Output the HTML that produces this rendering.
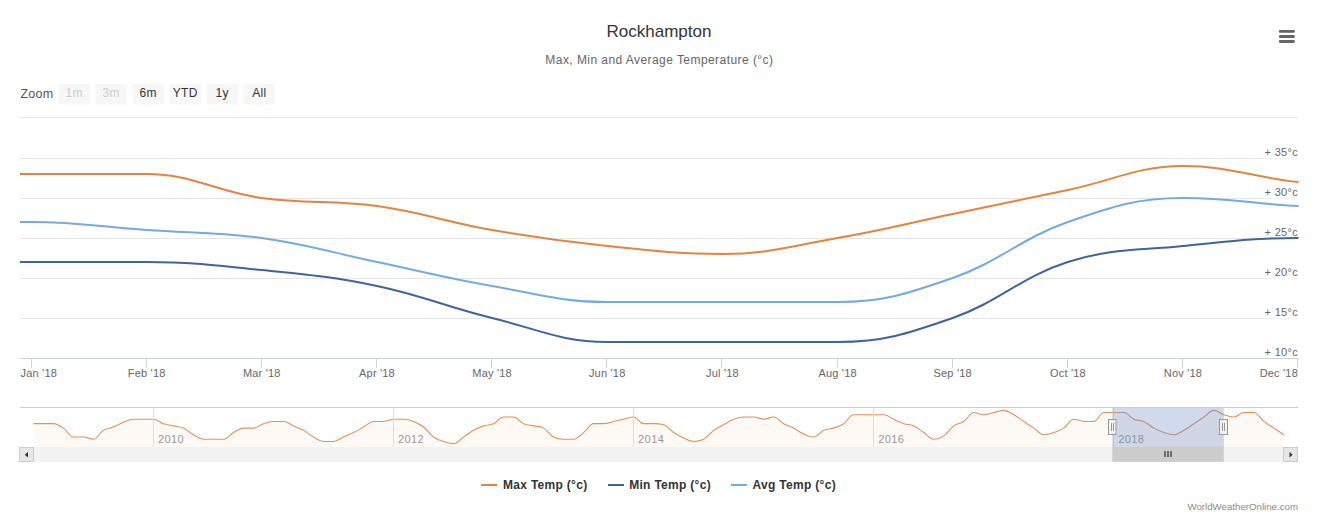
<!DOCTYPE html>
<html><head><meta charset="utf-8"><style>
html,body{margin:0;padding:0;background:#fff;width:1319px;height:518px;overflow:hidden}
svg{display:block;font-family:"Liberation Sans",sans-serif}
</style></head><body>
<svg width="1319" height="518" viewBox="0 0 1319 518">
<rect x="0" y="0" width="1319" height="518" fill="#ffffff"/>
<text x="659" y="37" text-anchor="middle" font-size="17" fill="#333333">Rockhampton</text>
<text x="659.4" y="64" text-anchor="middle" font-size="12" letter-spacing="0.44" fill="#666666">Max, Min and Average Temperature (°c)</text>
<g stroke="#666666" stroke-width="2.8" stroke-linecap="round">
<path d="M 1280.2 31.4 L 1293.6 31.4 M 1280.2 36.5 L 1293.6 36.5 M 1280.2 41.5 L 1293.6 41.5"/>
</g>
<text x="20.4" y="97.7" font-size="12.5" letter-spacing="0.3" fill="#555555">Zoom</text>
<g font-size="12" letter-spacing="0.3"><rect x="58.5" y="84" width="31.5" height="20.5" fill="#f7f7f7"/><text x="74.25" y="97" text-anchor="middle" fill="#cccccc">1m</text><rect x="95.5" y="84" width="31.5" height="20.5" fill="#f7f7f7"/><text x="111.25" y="97" text-anchor="middle" fill="#cccccc">3m</text><rect x="132.5" y="84" width="31.5" height="20.5" fill="#f7f7f7"/><text x="148.25" y="97" text-anchor="middle" fill="#333333">6m</text><rect x="169.5" y="84" width="31.5" height="20.5" fill="#f7f7f7"/><text x="185.25" y="97" text-anchor="middle" fill="#333333">YTD</text><rect x="206.5" y="84" width="31.5" height="20.5" fill="#f7f7f7"/><text x="222.25" y="97" text-anchor="middle" fill="#333333">1y</text><rect x="243.5" y="84" width="31.5" height="20.5" fill="#f7f7f7"/><text x="259.25" y="97" text-anchor="middle" fill="#333333">All</text></g>
<path d="M 20 117.5 L 1298 117.5 M 20 158.5 L 1298 158.5 M 20 198.5 L 1298 198.5 M 20 238.5 L 1298 238.5 M 20 278.5 L 1298 278.5 M 20 318.5 L 1298 318.5" stroke="#e6e6e6" stroke-width="1" fill="none"/>
<rect x="1264" y="158" width="34" height="1" fill="#ffffff" fill-opacity="0.6"/><rect x="1264" y="198" width="34" height="1" fill="#ffffff" fill-opacity="0.6"/><rect x="1264" y="238" width="34" height="1" fill="#ffffff" fill-opacity="0.6"/><rect x="1264" y="278" width="34" height="1" fill="#ffffff" fill-opacity="0.6"/><rect x="1264" y="318" width="34" height="1" fill="#ffffff" fill-opacity="0.6"/><rect x="1264" y="358" width="34" height="1" fill="#ffffff" fill-opacity="0.6"/><g font-size="11" letter-spacing="0.3" fill="#666666"><text x="1298" y="156" text-anchor="end">+ 35°c</text><text x="1298" y="196" text-anchor="end">+ 30°c</text><text x="1298" y="236" text-anchor="end">+ 25°c</text><text x="1298" y="276" text-anchor="end">+ 20°c</text><text x="1298" y="316" text-anchor="end">+ 15°c</text><text x="1298" y="356" text-anchor="end">+ 10°c</text></g>
<defs><clipPath id="pc"><rect x="20" y="110" width="1278.5" height="260"/></clipPath></defs>
<g clip-path="url(#pc)" fill="none" stroke-width="2" stroke-linejoin="round" stroke-linecap="round">
<path d="M -83.65 174.00 C -83.65 174.00 -14.56 174.00 31.50 174.00 C 77.56 174.00 100.59 174.00 146.65 174.00 C 192.71 174.00 215.74 191.60 261.80 198.00 C 307.86 204.40 330.89 199.60 376.95 206.00 C 423.01 212.40 446.04 222.00 492.10 230.00 C 538.16 238.00 561.19 241.20 607.25 246.00 C 653.31 250.80 676.34 254.00 722.40 254.00 C 768.46 254.00 791.49 246.00 837.55 238.00 C 883.61 230.00 906.64 223.60 952.70 214.00 C 998.76 204.40 1021.79 199.60 1067.85 190.00 C 1113.91 180.40 1136.94 166.00 1183.00 166.00 C 1229.06 166.00 1252.09 177.20 1298.15 182.00 C 1344.21 186.80 1413.30 190.00 1413.30 190.00" stroke="#e8823f"/>
<path d="M -83.65 266.00 C -83.65 266.00 -14.56 262.00 31.50 262.00 C 77.56 262.00 100.59 262.00 146.65 262.00 C 192.71 262.00 215.74 265.20 261.80 270.00 C 307.86 274.80 330.89 276.40 376.95 286.00 C 423.01 295.60 446.04 306.80 492.10 318.00 C 538.16 329.20 561.19 342.00 607.25 342.00 C 653.31 342.00 676.34 342.00 722.40 342.00 C 768.46 342.00 791.49 342.00 837.55 342.00 C 883.61 342.00 906.64 334.00 952.70 318.00 C 998.76 302.00 1021.79 276.40 1067.85 262.00 C 1113.91 247.60 1136.94 250.80 1183.00 246.00 C 1229.06 241.20 1252.09 238.00 1298.15 238.00 C 1344.21 238.00 1413.30 242.00 1413.30 242.00" stroke="#3f6498"/>
<path d="M -83.65 226.00 C -83.65 226.00 -14.56 222.00 31.50 222.00 C 77.56 222.00 100.59 226.80 146.65 230.00 C 192.71 233.20 215.74 231.60 261.80 238.00 C 307.86 244.40 330.89 252.40 376.95 262.00 C 423.01 271.60 446.04 278.00 492.10 286.00 C 538.16 294.00 561.19 302.00 607.25 302.00 C 653.31 302.00 676.34 302.00 722.40 302.00 C 768.46 302.00 791.49 302.00 837.55 302.00 C 883.61 302.00 906.64 294.00 952.70 278.00 C 998.76 262.00 1021.79 238.00 1067.85 222.00 C 1113.91 206.00 1136.94 198.00 1183.00 198.00 C 1229.06 198.00 1252.09 203.60 1298.15 206.00 C 1344.21 208.40 1413.30 210.00 1413.30 210.00" stroke="#74aae0"/>
</g>
<path d="M 20 358.5 L 1298.5 358.5" stroke="#c9d1e4" stroke-width="1"/>
<path d="M 31.5 358 L 31.5 368 M 146.5 358 L 146.5 368 M 261.5 358 L 261.5 368 M 376.5 358 L 376.5 368 M 491.5 358 L 491.5 368 M 606.5 358 L 606.5 368 M 721.5 358 L 721.5 368 M 837.5 358 L 837.5 368 M 952.5 358 L 952.5 368 M 1067.5 358 L 1067.5 368 M 1182.5 358 L 1182.5 368 M 1297.5 358 L 1297.5 368" stroke="#c9d1e4" stroke-width="1"/>
<g font-size="11" letter-spacing="0.2" fill="#666666"><text x="20.5" y="377" text-anchor="start">Jan '18</text><text x="146.7" y="377" text-anchor="middle">Feb '18</text><text x="261.8" y="377" text-anchor="middle">Mar '18</text><text x="377.0" y="377" text-anchor="middle">Apr '18</text><text x="492.1" y="377" text-anchor="middle">May '18</text><text x="607.2" y="377" text-anchor="middle">Jun '18</text><text x="722.4" y="377" text-anchor="middle">Jul '18</text><text x="837.6" y="377" text-anchor="middle">Aug '18</text><text x="952.7" y="377" text-anchor="middle">Sep '18</text><text x="1067.9" y="377" text-anchor="middle">Oct '18</text><text x="1183.0" y="377" text-anchor="middle">Nov '18</text><text x="1298" y="377" text-anchor="end">Dec '18</text></g>
<!-- navigator -->
<path d="M 33.40 423.67 C 33.40 423.67 39.40 423.67 43.40 423.67 C 47.41 423.67 49.41 423.67 53.41 423.67 C 57.41 423.67 59.41 425.44 63.41 428.11 C 67.41 430.78 69.41 437.00 73.42 437.00 C 77.42 437.00 79.42 437.00 83.42 437.00 C 87.42 437.00 89.42 439.22 93.42 439.22 C 97.43 439.22 99.43 432.78 103.43 430.33 C 107.43 427.89 109.43 428.60 113.43 427.00 C 117.43 425.40 119.43 423.89 123.44 422.33 C 127.44 420.78 129.44 419.22 133.44 419.22 C 137.44 419.22 139.44 419.22 143.44 419.22 C 147.45 419.22 149.45 419.22 153.45 419.22 C 157.45 419.22 159.45 422.33 163.45 423.67 C 167.45 425.00 169.45 425.00 173.46 425.89 C 177.46 426.78 179.46 426.33 183.46 428.11 C 187.46 429.89 189.46 432.56 193.46 434.78 C 197.47 437.00 199.47 439.22 203.47 439.22 C 207.47 439.22 209.47 439.22 213.47 439.22 C 217.47 439.22 219.47 439.22 223.48 439.22 C 227.48 439.22 229.48 434.78 233.48 432.56 C 237.48 430.33 239.48 428.11 243.48 428.11 C 247.49 428.11 249.49 428.11 253.49 428.11 C 257.49 428.11 259.49 425.00 263.49 423.67 C 267.49 422.33 269.49 421.44 273.50 421.44 C 277.50 421.44 279.50 421.44 283.50 421.44 C 287.50 421.44 289.50 424.11 293.50 425.89 C 297.51 427.67 299.51 428.11 303.51 430.33 C 307.51 432.56 309.51 434.78 313.51 437.00 C 317.51 439.22 319.51 441.44 323.52 441.44 C 327.52 441.44 329.52 441.44 333.52 441.44 C 337.52 441.44 339.52 438.78 343.52 437.00 C 347.53 435.22 349.53 434.56 353.53 432.56 C 357.53 430.56 359.53 429.22 363.53 427.00 C 367.53 424.78 369.53 421.44 373.54 421.44 C 377.54 421.44 379.54 421.44 383.54 421.44 C 387.54 421.44 389.54 419.22 393.54 419.22 C 397.55 419.22 399.55 419.22 403.55 419.22 C 407.55 419.22 409.55 419.89 413.55 421.44 C 417.55 423.00 419.55 423.89 423.56 427.00 C 427.56 430.11 429.56 434.11 433.56 437.00 C 437.56 439.89 439.56 440.11 443.56 441.44 C 447.57 442.78 449.57 443.67 453.57 443.67 C 457.57 443.67 459.57 439.67 463.57 437.00 C 467.57 434.33 469.57 432.56 473.58 430.33 C 477.58 428.11 479.58 427.22 483.58 425.89 C 487.58 424.56 489.58 425.44 493.58 423.67 C 497.59 421.89 499.59 417.00 503.59 417.00 C 507.59 417.00 509.59 417.00 513.59 417.00 C 517.59 417.00 519.59 421.89 523.60 423.67 C 527.60 425.44 529.60 425.00 533.60 425.89 C 537.60 426.78 539.60 425.89 543.60 428.11 C 547.61 430.33 549.61 434.78 553.61 437.00 C 557.61 439.22 559.61 439.22 563.61 439.22 C 567.61 439.22 569.61 439.22 573.62 439.22 C 577.62 439.22 579.62 435.67 583.62 432.56 C 587.62 429.44 589.62 423.67 593.62 423.67 C 597.63 423.67 599.63 423.67 603.63 423.67 C 607.63 423.67 609.63 422.33 613.63 421.44 C 617.63 420.56 619.63 420.11 623.64 419.22 C 627.64 418.33 629.64 417.00 633.64 417.00 C 637.64 417.00 639.64 423.67 643.64 423.67 C 647.65 423.67 649.65 423.67 653.65 423.67 C 657.65 423.67 659.65 423.67 663.65 424.78 C 667.65 425.89 669.65 429.89 673.66 432.56 C 677.66 435.22 679.66 436.33 683.66 438.11 C 687.66 439.89 689.66 441.44 693.66 441.44 C 697.67 441.44 699.67 441.44 703.67 439.22 C 707.67 437.00 709.67 433.22 713.67 430.33 C 717.67 427.44 719.67 427.00 723.68 424.78 C 727.68 422.56 729.68 420.78 733.68 419.22 C 737.68 417.67 739.68 417.00 743.68 417.00 C 747.69 417.00 749.69 417.00 753.69 417.00 C 757.69 417.00 759.69 419.22 763.69 419.22 C 767.69 419.22 769.69 417.00 773.70 417.00 C 777.70 417.00 779.70 421.44 783.70 423.67 C 787.70 425.89 789.70 426.02 793.70 428.11 C 797.71 430.20 799.71 432.33 803.71 434.11 C 807.71 435.89 809.71 437.00 813.71 437.00 C 817.71 437.00 819.71 432.11 823.72 430.33 C 827.72 428.56 829.72 429.44 833.72 428.11 C 837.72 426.78 839.72 426.33 843.72 423.67 C 847.73 421.00 849.73 414.78 853.73 414.78 C 857.73 414.78 859.73 414.78 863.73 414.78 C 867.73 414.78 869.73 414.78 873.74 414.78 C 877.74 414.78 879.74 414.78 883.74 414.78 C 887.74 414.78 889.74 417.44 893.74 419.22 C 897.75 421.00 899.75 422.33 903.75 423.67 C 907.75 425.00 909.75 424.11 913.75 425.89 C 917.75 427.67 919.75 429.89 923.76 432.56 C 927.76 435.22 929.76 439.22 933.76 439.22 C 937.76 439.22 939.76 438.56 943.76 435.89 C 947.77 433.22 949.77 428.78 953.77 425.89 C 957.77 423.00 959.77 424.11 963.77 421.44 C 967.77 418.78 969.77 412.56 973.78 412.56 C 977.78 412.56 979.78 414.78 983.78 414.78 C 987.78 414.78 989.78 413.44 993.78 412.56 C 997.79 411.67 999.79 410.33 1003.79 410.33 C 1007.79 410.33 1009.79 412.56 1013.79 414.78 C 1017.79 417.00 1019.79 418.78 1023.80 421.44 C 1027.80 424.11 1029.80 425.44 1033.80 428.11 C 1037.80 430.78 1039.80 434.78 1043.80 434.78 C 1047.81 434.78 1049.81 433.89 1053.81 432.56 C 1057.81 431.22 1059.81 430.78 1063.81 428.11 C 1067.81 425.44 1069.81 419.22 1073.82 419.22 C 1077.82 419.22 1079.82 421.44 1083.82 421.44 C 1087.82 421.44 1089.82 421.44 1093.82 421.44 C 1097.83 421.44 1099.83 412.56 1103.83 412.56 C 1107.83 412.56 1109.83 412.56 1113.83 412.56 C 1117.83 412.56 1119.83 412.56 1123.84 412.56 C 1127.84 412.56 1129.84 417.44 1133.84 419.22 C 1137.84 421.00 1139.84 419.67 1143.84 421.44 C 1147.85 423.22 1149.85 425.89 1153.85 428.11 C 1157.85 430.33 1159.85 431.22 1163.85 432.56 C 1167.85 433.89 1169.85 434.78 1173.86 434.78 C 1177.86 434.78 1179.86 432.56 1183.86 430.33 C 1187.86 428.11 1189.86 426.33 1193.86 423.67 C 1197.87 421.00 1199.87 419.67 1203.87 417.00 C 1207.87 414.33 1209.87 410.33 1213.87 410.33 C 1217.87 410.33 1219.87 413.44 1223.88 414.78 C 1227.88 416.11 1229.88 417.00 1233.88 417.00 C 1237.88 417.00 1239.88 412.56 1243.88 412.56 C 1247.89 412.56 1249.89 412.56 1253.89 412.56 C 1257.89 412.56 1259.89 418.33 1263.89 421.44 C 1267.89 424.56 1269.89 425.44 1273.90 428.11 C 1277.90 430.78 1283.90 434.78 1283.90 434.78 L 1283.90 447 L 33.40 447 Z" fill="#e8823f" fill-opacity="0.05" stroke="none"/>
<path d="M 33.40 423.67 C 33.40 423.67 39.40 423.67 43.40 423.67 C 47.41 423.67 49.41 423.67 53.41 423.67 C 57.41 423.67 59.41 425.44 63.41 428.11 C 67.41 430.78 69.41 437.00 73.42 437.00 C 77.42 437.00 79.42 437.00 83.42 437.00 C 87.42 437.00 89.42 439.22 93.42 439.22 C 97.43 439.22 99.43 432.78 103.43 430.33 C 107.43 427.89 109.43 428.60 113.43 427.00 C 117.43 425.40 119.43 423.89 123.44 422.33 C 127.44 420.78 129.44 419.22 133.44 419.22 C 137.44 419.22 139.44 419.22 143.44 419.22 C 147.45 419.22 149.45 419.22 153.45 419.22 C 157.45 419.22 159.45 422.33 163.45 423.67 C 167.45 425.00 169.45 425.00 173.46 425.89 C 177.46 426.78 179.46 426.33 183.46 428.11 C 187.46 429.89 189.46 432.56 193.46 434.78 C 197.47 437.00 199.47 439.22 203.47 439.22 C 207.47 439.22 209.47 439.22 213.47 439.22 C 217.47 439.22 219.47 439.22 223.48 439.22 C 227.48 439.22 229.48 434.78 233.48 432.56 C 237.48 430.33 239.48 428.11 243.48 428.11 C 247.49 428.11 249.49 428.11 253.49 428.11 C 257.49 428.11 259.49 425.00 263.49 423.67 C 267.49 422.33 269.49 421.44 273.50 421.44 C 277.50 421.44 279.50 421.44 283.50 421.44 C 287.50 421.44 289.50 424.11 293.50 425.89 C 297.51 427.67 299.51 428.11 303.51 430.33 C 307.51 432.56 309.51 434.78 313.51 437.00 C 317.51 439.22 319.51 441.44 323.52 441.44 C 327.52 441.44 329.52 441.44 333.52 441.44 C 337.52 441.44 339.52 438.78 343.52 437.00 C 347.53 435.22 349.53 434.56 353.53 432.56 C 357.53 430.56 359.53 429.22 363.53 427.00 C 367.53 424.78 369.53 421.44 373.54 421.44 C 377.54 421.44 379.54 421.44 383.54 421.44 C 387.54 421.44 389.54 419.22 393.54 419.22 C 397.55 419.22 399.55 419.22 403.55 419.22 C 407.55 419.22 409.55 419.89 413.55 421.44 C 417.55 423.00 419.55 423.89 423.56 427.00 C 427.56 430.11 429.56 434.11 433.56 437.00 C 437.56 439.89 439.56 440.11 443.56 441.44 C 447.57 442.78 449.57 443.67 453.57 443.67 C 457.57 443.67 459.57 439.67 463.57 437.00 C 467.57 434.33 469.57 432.56 473.58 430.33 C 477.58 428.11 479.58 427.22 483.58 425.89 C 487.58 424.56 489.58 425.44 493.58 423.67 C 497.59 421.89 499.59 417.00 503.59 417.00 C 507.59 417.00 509.59 417.00 513.59 417.00 C 517.59 417.00 519.59 421.89 523.60 423.67 C 527.60 425.44 529.60 425.00 533.60 425.89 C 537.60 426.78 539.60 425.89 543.60 428.11 C 547.61 430.33 549.61 434.78 553.61 437.00 C 557.61 439.22 559.61 439.22 563.61 439.22 C 567.61 439.22 569.61 439.22 573.62 439.22 C 577.62 439.22 579.62 435.67 583.62 432.56 C 587.62 429.44 589.62 423.67 593.62 423.67 C 597.63 423.67 599.63 423.67 603.63 423.67 C 607.63 423.67 609.63 422.33 613.63 421.44 C 617.63 420.56 619.63 420.11 623.64 419.22 C 627.64 418.33 629.64 417.00 633.64 417.00 C 637.64 417.00 639.64 423.67 643.64 423.67 C 647.65 423.67 649.65 423.67 653.65 423.67 C 657.65 423.67 659.65 423.67 663.65 424.78 C 667.65 425.89 669.65 429.89 673.66 432.56 C 677.66 435.22 679.66 436.33 683.66 438.11 C 687.66 439.89 689.66 441.44 693.66 441.44 C 697.67 441.44 699.67 441.44 703.67 439.22 C 707.67 437.00 709.67 433.22 713.67 430.33 C 717.67 427.44 719.67 427.00 723.68 424.78 C 727.68 422.56 729.68 420.78 733.68 419.22 C 737.68 417.67 739.68 417.00 743.68 417.00 C 747.69 417.00 749.69 417.00 753.69 417.00 C 757.69 417.00 759.69 419.22 763.69 419.22 C 767.69 419.22 769.69 417.00 773.70 417.00 C 777.70 417.00 779.70 421.44 783.70 423.67 C 787.70 425.89 789.70 426.02 793.70 428.11 C 797.71 430.20 799.71 432.33 803.71 434.11 C 807.71 435.89 809.71 437.00 813.71 437.00 C 817.71 437.00 819.71 432.11 823.72 430.33 C 827.72 428.56 829.72 429.44 833.72 428.11 C 837.72 426.78 839.72 426.33 843.72 423.67 C 847.73 421.00 849.73 414.78 853.73 414.78 C 857.73 414.78 859.73 414.78 863.73 414.78 C 867.73 414.78 869.73 414.78 873.74 414.78 C 877.74 414.78 879.74 414.78 883.74 414.78 C 887.74 414.78 889.74 417.44 893.74 419.22 C 897.75 421.00 899.75 422.33 903.75 423.67 C 907.75 425.00 909.75 424.11 913.75 425.89 C 917.75 427.67 919.75 429.89 923.76 432.56 C 927.76 435.22 929.76 439.22 933.76 439.22 C 937.76 439.22 939.76 438.56 943.76 435.89 C 947.77 433.22 949.77 428.78 953.77 425.89 C 957.77 423.00 959.77 424.11 963.77 421.44 C 967.77 418.78 969.77 412.56 973.78 412.56 C 977.78 412.56 979.78 414.78 983.78 414.78 C 987.78 414.78 989.78 413.44 993.78 412.56 C 997.79 411.67 999.79 410.33 1003.79 410.33 C 1007.79 410.33 1009.79 412.56 1013.79 414.78 C 1017.79 417.00 1019.79 418.78 1023.80 421.44 C 1027.80 424.11 1029.80 425.44 1033.80 428.11 C 1037.80 430.78 1039.80 434.78 1043.80 434.78 C 1047.81 434.78 1049.81 433.89 1053.81 432.56 C 1057.81 431.22 1059.81 430.78 1063.81 428.11 C 1067.81 425.44 1069.81 419.22 1073.82 419.22 C 1077.82 419.22 1079.82 421.44 1083.82 421.44 C 1087.82 421.44 1089.82 421.44 1093.82 421.44 C 1097.83 421.44 1099.83 412.56 1103.83 412.56 C 1107.83 412.56 1109.83 412.56 1113.83 412.56 C 1117.83 412.56 1119.83 412.56 1123.84 412.56 C 1127.84 412.56 1129.84 417.44 1133.84 419.22 C 1137.84 421.00 1139.84 419.67 1143.84 421.44 C 1147.85 423.22 1149.85 425.89 1153.85 428.11 C 1157.85 430.33 1159.85 431.22 1163.85 432.56 C 1167.85 433.89 1169.85 434.78 1173.86 434.78 C 1177.86 434.78 1179.86 432.56 1183.86 430.33 C 1187.86 428.11 1189.86 426.33 1193.86 423.67 C 1197.87 421.00 1199.87 419.67 1203.87 417.00 C 1207.87 414.33 1209.87 410.33 1213.87 410.33 C 1217.87 410.33 1219.87 413.44 1223.88 414.78 C 1227.88 416.11 1229.88 417.00 1233.88 417.00 C 1237.88 417.00 1239.88 412.56 1243.88 412.56 C 1247.89 412.56 1249.89 412.56 1253.89 412.56 C 1257.89 412.56 1259.89 418.33 1263.89 421.44 C 1267.89 424.56 1269.89 425.44 1273.90 428.11 C 1277.90 430.78 1283.90 434.78 1283.90 434.78" fill="none" stroke="#e5915a" stroke-width="1.1"/>
<path d="M 153.5 407 L 153.5 447 M 393.5 407 L 393.5 447 M 633.5 407 L 633.5 447 M 873.5 407 L 873.5 447 M 1113.5 407 L 1113.5 447 " stroke="#dedede" stroke-width="1"/>
<g font-size="11" letter-spacing="0.4" fill="#999999"><text x="157.9" y="442.5">2010</text><text x="398.0" y="442.5">2012</text><text x="638.1" y="442.5">2014</text><text x="878.2" y="442.5">2016</text><text x="1118.3" y="442.5">2018</text></g>
<rect x="1112.3" y="407.5" width="111.5" height="39.5" fill="rgba(102,133,194,0.3)"/>
<path d="M 20 407.5 L 1298 407.5" stroke="#cccccc" stroke-width="1"/>
<!-- scrollbar -->
<rect x="20" y="447" width="1278" height="14.8" fill="#f2f2f2"/>
<rect x="1112.3" y="447" width="111.5" height="14.8" fill="#cccccc"/>
<path d="M 1165 451 L 1165 457 M 1168 451 L 1168 457 M 1171 451 L 1171 457" stroke="#555555" stroke-width="1.6"/>
<rect x="19.5" y="447.5" width="14" height="14" fill="#e6e6e6" stroke="#cccccc" stroke-width="1"/>
<path d="M 28 452 L 28 457.5 L 24.8 454.75 Z" fill="#333333"/>
<rect x="1283.5" y="447.5" width="14" height="14" fill="#e6e6e6" stroke="#cccccc" stroke-width="1"/>
<path d="M 1289.5 452 L 1289.5 457.5 L 1292.7 454.75 Z" fill="#333333"/>
<!-- handles -->
<g fill="#f2f2f2" stroke="#999999" stroke-width="1">
<rect x="1108.5" y="419.5" width="7.5" height="15"/>
<rect x="1219.5" y="419.5" width="8" height="15"/>
</g>
<path d="M 1111.5 423 L 1111.5 431 M 1113.5 423 L 1113.5 431 M 1222.5 423 L 1222.5 431 M 1224.5 423 L 1224.5 431" stroke="#999999" stroke-width="1"/>
<!-- legend -->
<g stroke-width="2">
<path d="M 481 485 L 497 485" stroke="#e8823f"/>
<path d="M 608 485 L 624 485" stroke="#3f6498"/>
<path d="M 731 485 L 747 485" stroke="#74aae0"/>
</g>
<g font-size="12" font-weight="bold" letter-spacing="0.3" fill="#333333">
<text x="503" y="488.6">Max Temp (°c)</text>
<text x="629.2" y="488.6">Min Temp (°c)</text>
<text x="752.6" y="488.6">Avg Temp (°c)</text>
</g>
<text x="1298" y="510" text-anchor="end" font-size="9.7" fill="#8a8a8a">WorldWeatherOnline.com</text>
</svg>
</body></html>
